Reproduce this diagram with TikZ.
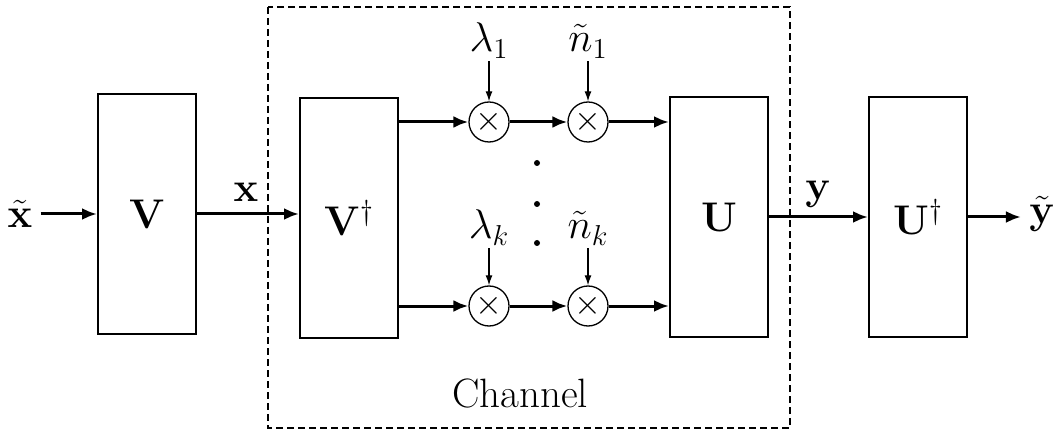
\documentclass[tikz,border=0pt]{standalone}
\usetikzlibrary{arrows.meta}
\begin{document}
\begin{tikzpicture}[x=0.5pt,y=-0.5pt,
  font=\fontsize{20.5}{24}\selectfont,
  blk/.style={draw, line width=1pt, minimum width=49pt, minimum height=120pt, inner sep=0pt},
  mul/.style={draw, circle, line width=0.65pt, minimum size=20pt, inner sep=0pt, font=\fontsize{16}{18}\selectfont},
  lab/.style={inner sep=0pt, text depth=4.5pt, anchor=base},
  arr/.style={line width=1.5pt, -{Latex[length=7.5pt,width=6pt]}},
  sarr/.style={line width=0.65pt, -{Latex[length=5pt,width=3.5pt]}},
  dotn/.style={circle, fill, inner sep=0pt, minimum size=3pt},
  chbox/.style={draw, dashed, line width=0.8pt, dash pattern=on 3.5pt off 2pt}
]
\useasboundingbox (0,0) rectangle (1063,432);

% channel box
\draw[chbox] (268,7) rectangle (790,428);
\node[inner sep=0pt, anchor=base] (ch) at (520,407) {Channel};

% blocks
\node[blk] (V)  at (147,214) {$\mathbf{V}$};
\node[blk] (Vd) at (349,218) {$\mathbf{V}^\dagger$};
\node[blk] (U)  at (719,217) {$\mathbf{U}$};
\node[blk] (Ud) at (918,217) {$\mathbf{U}^\dagger$};

% multipliers
\node[mul] (m11) at (489,122) {$\times$};
\node[mul] (m12) at (588,122) {$\times$};
\node[mul] (mk1) at (489,306) {$\times$};
\node[mul] (mk2) at (588,306) {$\times$};

% labels
\node[lab] (l1) at (489,52) {$\lambda_1$};
\node[lab] (n1) at (588,52) {$\tilde{n}_1$};
\node[lab] (lk) at (489,239) {$\lambda_k$};
\node[lab] (nk) at (588,239) {$\tilde{n}_k$};

% dots
\node[dotn] (d1) at (537,163) {};
\node[dotn] (d2) at (537,204) {};
\node[dotn] (d3) at (537,243) {};

% inputs/outputs
\node[inner sep=0pt] (xt) at (20,214) {$\tilde{\mathbf{x}}$};
\node[inner sep=0pt, anchor=base] (xl) at (246,202) {$\mathbf{x}$};
\node[inner sep=0pt, anchor=base] (yl) at (818,200) {$\mathbf{y}$};
\node[inner sep=0pt] (yt) at (1042,214) {$\tilde{\mathbf{y}}$};

% connectors
\draw[arr, shorten <=4pt] (xt.east) -- (V.west);
\draw[arr] (V.east) -- (V.east -| Vd.west);
\draw[arr] (Vd.east |- m11) -- (m11);
\draw[arr] (m11) -- (m12);
\draw[arr] (m12) -- (U.west |- m12);
\draw[arr] (Vd.east |- mk1) -- (mk1);
\draw[arr] (mk1) -- (mk2);
\draw[arr] (mk2) -- (U.west |- mk2);
\draw[arr] (U.east) -- (Ud.west);
\draw[arr, shorten >=4pt] (Ud.east) -- (Ud.east -| yt.west);

\draw[sarr] (l1.south) -- (m11.north);
\draw[sarr] (n1.south) -- (m12.north);
\draw[sarr] (lk.south) -- (mk1.north);
\draw[sarr] (nk.south) -- (mk2.north);
\end{tikzpicture}
\end{document}
